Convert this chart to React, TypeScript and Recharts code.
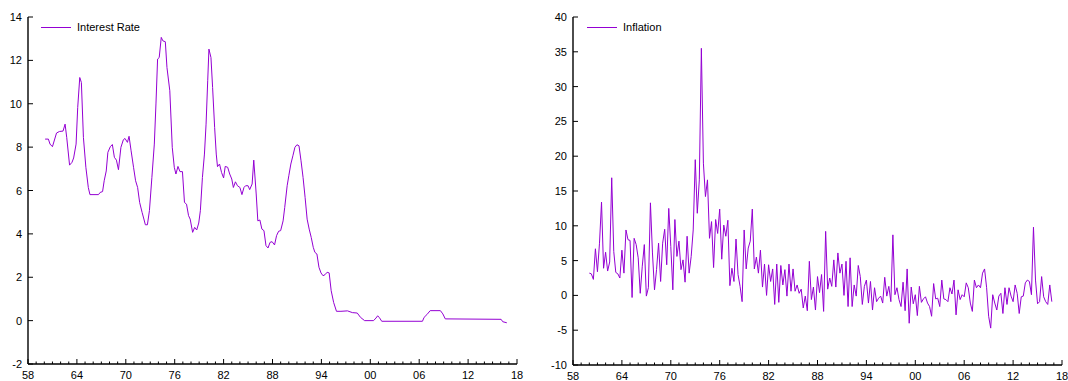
import React from 'react';
import { LineChart, Line, XAxis, YAxis } from 'recharts';

const LINE_COLOR = '#9400D3';
const FONT = '"Liberation Sans", Arial, Helvetica, sans-serif';

// Interest rate (year, value)
const rateYears = [
  1960.1, 1960.5, 1960.7, 1961.0, 1961.5, 1961.85, 1962.3, 1962.55, 1962.75, 1963.1,
  1963.4, 1963.6, 1963.9, 1964.1, 1964.35, 1964.55, 1964.8, 1965.1, 1965.4, 1965.6,
  1966.65, 1966.85, 1967.15, 1967.35, 1967.6, 1967.8, 1968.1, 1968.35, 1968.6, 1968.85,
  1969.1, 1969.4, 1969.7, 1969.9, 1970.2, 1970.4, 1970.65, 1970.95, 1971.2, 1971.45,
  1971.7, 1972.0, 1972.25, 1972.4, 1972.65, 1972.9, 1973.2, 1973.5, 1973.7, 1973.9,
  1974.1, 1974.35, 1974.55, 1974.85, 1975.05, 1975.4, 1975.7, 1975.95, 1976.15, 1976.4,
  1976.65, 1976.95, 1977.2, 1977.45, 1977.7, 1977.9, 1978.2, 1978.45, 1978.7, 1978.95,
  1979.15, 1979.4, 1979.65, 1979.85, 1980.05, 1980.2, 1980.45, 1980.65, 1980.9, 1981.1,
  1981.25, 1981.5, 1981.75, 1982.0, 1982.2, 1982.5, 1982.75, 1983.0, 1983.2, 1983.45,
  1983.7, 1984.0, 1984.25, 1984.5, 1984.7, 1985.0, 1985.2, 1985.5, 1985.7, 1986.0,
  1986.2, 1986.45, 1986.7, 1986.95, 1987.2, 1987.45, 1987.7, 1987.95, 1988.25, 1988.5,
  1988.75, 1989.0, 1989.3, 1989.5, 1989.8, 1990.0, 1990.25, 1990.5, 1990.75, 1991.0,
  1991.25, 1991.5, 1991.75, 1992.0, 1992.25, 1992.5, 1992.75, 1993.0, 1993.2, 1993.45,
  1993.7, 1993.95, 1994.2, 1994.45, 1994.7, 1994.95, 1995.2, 1995.5, 1995.85, 1996.4,
  1997.2, 1997.8, 1998.4, 1998.8, 1999.3, 2000.4, 2000.7, 2000.9, 2001.1, 2001.4,
  2006.4, 2006.6, 2006.95, 2007.35, 2008.6, 2008.9, 2009.2, 2016.05, 2016.25, 2016.75,
];
const rateValues = [
  8.37, 8.37, 8.14, 8.02, 8.65, 8.72, 8.74, 9.06, 8.45, 7.17,
  7.3, 7.5, 8.14, 9.83, 11.21, 10.98, 8.45, 7.07, 6.14, 5.81,
  5.81, 5.91, 5.95, 6.45, 6.9, 7.76, 8.02, 8.12, 7.53, 7.4,
  6.96, 7.99, 8.34, 8.4, 8.22, 8.5, 7.83, 7.07, 6.45, 6.14,
  5.45, 4.99, 4.64, 4.42, 4.42, 5.07, 6.6, 8.14, 9.99, 12.06,
  12.13, 13.06, 12.9, 12.86, 11.67, 10.6, 7.99, 7.07, 6.76, 7.11,
  6.87, 6.87, 5.45, 5.37, 4.84, 4.68, 4.07, 4.3, 4.18, 4.5,
  5.07, 6.6, 7.68, 9.06, 11.06, 12.52, 12.13, 10.75, 8.91, 7.68,
  7.1, 7.22, 6.83, 6.58, 7.11, 7.07, 6.76, 6.53, 6.14, 6.4,
  6.22, 6.14, 5.81, 6.14, 6.22, 6.22, 6.04, 6.3, 7.4, 5.84,
  4.6, 4.64, 4.22, 4.15, 3.46, 3.35, 3.61, 3.64, 3.49, 3.92,
  4.12, 4.15, 4.6, 5.22, 6.22, 6.68, 7.22, 7.6, 7.99, 8.11,
  8.06, 7.37, 6.6, 5.68, 4.68, 4.22, 3.84, 3.38, 3.15, 3.07,
  2.46, 2.2, 2.07, 2.12, 2.23, 2.2, 1.38, 0.84, 0.43, 0.43,
  0.45, 0.37, 0.35, 0.15, 0.0, 0.0, 0.12, 0.22, 0.15, -0.03,
  -0.03, 0.15, 0.28, 0.46, 0.46, 0.31, 0.08, 0.06, -0.05, -0.1,
];

// Inflation, quarterly from 1960Q1
const inflationStartYear = 1960;
const inflationValues = [
  3.2, 3.1, 2.3, 6.7, 3.4, 7.5, 13.4, 3.9, 6.2, 3.5, 4.8, 16.9,
  6.3, 3.3, 3.1, 2.5, 6.5, 3.2, 9.4, 8.0, 7.9, -0.3, 8.2, 7.3,
  5.4, 0.3, 4.2, 7.3, -0.1, 1.1, 13.3, 6.1, 0.8, 3.7, 7.5, 2.0,
  7.5, 9.5, 4.4, 12.5, 7.0, 0.8, 10.9, 5.6, 7.8, 3.7, 5.1, 1.9,
  8.5, 3.2, 5.6, 9.4, 19.5, 11.8, 16.6, 35.5, 19.0, 14.2, 16.6, 8.2,
  10.6, 4.0, 10.9, 8.9, 12.4, 5.2, 10.1, 8.5, 10.8, 1.4, 3.9, 2.0,
  8.1,
  3.0, 1.3, -0.9, 9.4, 3.8, 6.8, 7.8, 12.4, 3.8, 5.5,
  3.2, 6.5, 1.2, 4.5, 0, 4.4, 2.0, 3.8, -1.3, 4.5,
  -1.0, 4.3, 1.5, 3.7, -0.1, 4.5, 0.6, 3.8, 0.6, 1.5,
  0.3, 0.9, -1.8, -0.1, -2.2, 4.9, -0.6, 1.2, -2.1, 2.7,
  0.4, 3.0, -2.3, 9.2, 0.9, 2.5, 1.3, 5.1, 1.2, 6.1,
  3.2, 4.5, 0, 4.9, -1.6, 5.4, -1.6, 1.5, -0.1, 4.3,
  2.7, -1.3, 1.3, 2.2, -1.1, 2.0, -2.1, 1.1, -0.9, -0.4,
  -0.1, -1.1, 2.6, -0.1, 1.3, -0.9, 8.7, 0.1, 1.1, -0.6,
  -1.6, 1.9, -2.2, 3.8, -4.0, 1.2, -1.2, 0.1, -2.9, 1.3,
  -1.0, -0.5, -0.2, -1.1, -1.6, -3.0, 1.7, -0.5, -0.4, -1.6,
  2.2, -0.5, -0.6, -0.9, 1.1, 0.2, 2.2, -2.8, 0.8, -0.6,
  0.1, -0.2, 1.8, 1.1, -1.1, -2.3, 2.2, 1.1, 1.5, 1.1,
  3.2, 3.8, 1.1, -3.0, -4.7, 0.1, -1.1, -2.1, -0.1, 0.3,
  -2.6, 1.1, -1.3, 1.1, -0.1, -0.9, 1.5, 0.3, -2.6, -0.2,
  -0.1, 1.8, 2.2, 2.0, 0.1, 9.8, 2.2, -1.2, -0.9, 2.7,
  -0.2, -0.9, -1.3, 1.5, -0.9,
];

// Axis ticks
const xMajorTickYears = [1958, 1964, 1970, 1976, 1982, 1988, 1994, 2000, 2006, 2012, 2018];
const xDomain: [number, number] = [1958, 2018];
const xAllTicks = Array.from({ length: xDomain[1] - xDomain[0] + 1 }, (_, i) => xDomain[0] + i);
const rateYTicks = [-2, 0, 2, 4, 6, 8, 10, 12, 14];
const inflationYTicks = [-10, -5, 0, 5, 10, 15, 20, 25, 30, 35, 40];

const rateData = rateYears.map((year, i) => ({ year, rate: rateValues[i] }));
const inflationData = inflationValues.map((v, i) => ({ year: inflationStartYear + i / 4, inflation: v }));

const YTick = (props: any) => {
  const { x, y, payload } = props;
  return (
    <g>
      <line x1={x} y1={y} x2={x + 5} y2={y} stroke="#000" strokeWidth={1} />
      <text x={x - 6} y={y} dy={4} textAnchor="end" fontSize={11} fill="#000" fontFamily={FONT}>
        {payload.value}
      </text>
    </g>
  );
};

const XTick = (props: any) => {
  const { x, y, payload } = props;
  const yr = payload.value as number;
  const major = xMajorTickYears.includes(yr);
  return (
    <g>
      <line x1={x} y1={y} x2={x} y2={y - (major ? 5 : 2.5)} stroke="#000" strokeWidth={1} />
      {major && (
        <text x={x} y={y + 14.5} textAnchor="middle" fontSize={11} fill="#000" fontFamily={FONT}>
          {String(yr % 100).padStart(2, '0')}
        </text>
      )}
    </g>
  );
};

const LegendBox = ({ label, left }: { label: string; left: number }) => (
  <div
    style={{
      position: 'absolute',
      left,
      top: 21,
      display: 'flex',
      alignItems: 'center',
      fontFamily: FONT,
      fontSize: 11,
      color: '#000',
      whiteSpace: 'nowrap',
      pointerEvents: 'none',
    }}
  >
    <svg width={30} height={12} style={{ display: 'block' }}>
      <line x1={0} y1={6.5} x2={30} y2={6.5} stroke={LINE_COLOR} strokeWidth={1} />
    </svg>
    <span style={{ marginLeft: 6, lineHeight: '12px' }}>{label}</span>
  </div>
);

export default function App() {
  return (
    <div style={{ position: 'absolute', left: 0, top: 0, width: 1068, height: 381, background: '#fff', fontFamily: FONT, overflow: 'hidden' }}>
      <div style={{ position: 'absolute', left: 0, top: 0 }}>
        <LineChart width={534} height={381} data={rateData} margin={{ top: 17, right: 17, bottom: 0, left: 0 }}>
          <XAxis
            dataKey="year"
            type="number"
            domain={xDomain}
            ticks={xAllTicks}
            interval={0}
            height={17}
            tickSize={0}
            tickMargin={0}
            tick={<XTick />}
            axisLine={{ stroke: '#000', strokeWidth: 1.4 }}
            tickLine={false}
            allowDataOverflow
          />
          <YAxis
            type="number"
            domain={[-2, 14]}
            ticks={rateYTicks}
            interval={0}
            width={28}
            tickSize={0}
            tickMargin={0}
            tick={<YTick />}
            axisLine={{ stroke: '#000', strokeWidth: 1.4 }}
            tickLine={false}
            allowDataOverflow
          />
          <Line
            type="linear"
            dataKey="rate"
            stroke={LINE_COLOR}
            strokeWidth={1}
            dot={false}
            activeDot={false}
            isAnimationActive={false}
          />
        </LineChart>
        <LegendBox label="Interest Rate" left={41} />
      </div>
      <div style={{ position: 'absolute', left: 534, top: 0 }}>
        <LineChart width={534} height={381} data={inflationData} margin={{ top: 17, right: 6, bottom: 0, left: 0 }}>
          <XAxis
            dataKey="year"
            type="number"
            domain={xDomain}
            ticks={xAllTicks}
            interval={0}
            height={16}
            tickSize={0}
            tickMargin={0}
            tick={<XTick />}
            axisLine={{ stroke: '#000', strokeWidth: 1.4 }}
            tickLine={false}
            allowDataOverflow
          />
          <YAxis
            type="number"
            domain={[-10, 40]}
            ticks={inflationYTicks}
            interval={0}
            width={39}
            tickSize={0}
            tickMargin={0}
            tick={<YTick />}
            axisLine={{ stroke: '#000', strokeWidth: 1.4 }}
            tickLine={false}
            allowDataOverflow
          />
          <Line
            type="linear"
            dataKey="inflation"
            stroke={LINE_COLOR}
            strokeWidth={1}
            dot={false}
            activeDot={false}
            isAnimationActive={false}
          />
        </LineChart>
        <LegendBox label="Inflation" left={53} />
      </div>
    </div>
  );
}
